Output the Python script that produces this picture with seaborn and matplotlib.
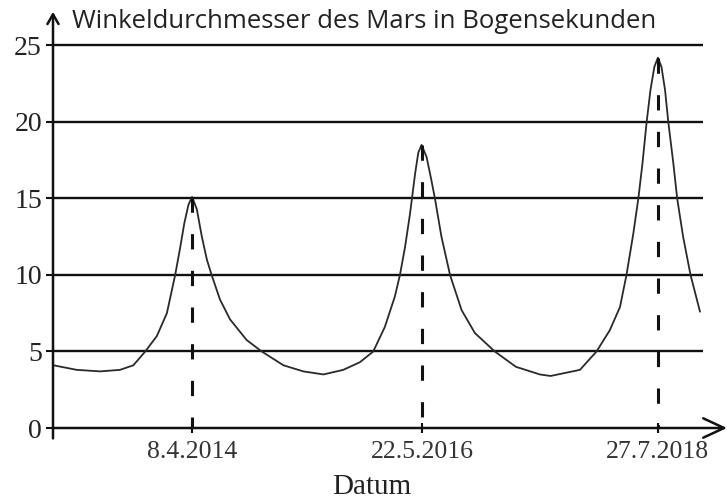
import pandas as pd
import matplotlib.pyplot as plt
import seaborn as sns

# Winkeldurchmesser des Mars (Bogensekunden), x = Tage relativ zum 8.4.2014
tage = [-468, -389, -310, -243, -198, -158, -119, -85, -57, -40,
        -26, -12, 0, 16, 33, 50, 66, 94, 128, 184,
        235, 308, 375, 443, 510, 566, 611, 650, 684,
        701, 718, 735, 752, 763, 774, 791, 807, 819, 841,
        870, 909, 954, 1021, 1092, 1173, 1209, 1308, 1364, 1409,
        1443, 1465, 1488, 1505, 1519, 1533, 1546, 1559, 1571, 1583,
        1595, 1606, 1623, 1636, 1656, 1681, 1713]
durchmesser = [4.1, 3.8, 3.7, 3.8, 4.1, 5.0, 6.0, 7.5, 10.0, 11.8,
               13.4, 14.6, 15.1, 14.3, 12.5, 11.0, 10.0, 8.4, 7.1, 5.75,
               5.0, 4.1, 3.7, 3.5, 3.8, 4.3, 5.0, 6.6, 8.6,
               10.0, 11.8, 14.0, 16.6, 18.0, 18.5, 17.7, 16.2, 15.0, 12.5,
               10.0, 7.7, 6.2, 5.0, 4.0, 3.5, 3.4, 3.8, 5.0, 6.4,
               7.9, 10.0, 12.7, 15.0, 17.3, 20.0, 22.1, 23.6, 24.2, 23.6,
               22.1, 20.0, 17.3, 15.0, 12.5, 10.0, 7.6]

# Oppositionen
opp_labels = ["8.4.2014", "22.5.2016", "27.7.2018"]
opp_werte = [15.1, 18.5, 24.2]

y_ticks = [0, 5, 10, 15, 20, 25]

start = pd.Timestamp("2014-04-08")
df = pd.DataFrame({
    "datum": start + pd.to_timedelta(tage, unit="D"),
    "wert": durchmesser,
})
opp_daten = pd.to_datetime(opp_labels, format="%d.%m.%Y")

sns.set_style("white")
plt.rcParams["font.family"] = ["Liberation Serif", "DejaVu Serif"]

fig = plt.figure(figsize=(7.28, 5.0), dpi=100)
ax = fig.add_axes([53 / 728, 0.144, 674 / 728, 0.8324])

x_min = start + pd.Timedelta(days=-469)
x_max = start + pd.Timedelta(days=1804)
grid_end = start + pd.Timedelta(days=1722)

# horizontale Linien
ax.hlines(y_ticks[1:], x_min, grid_end, color="#111111", lw=1.7)

sns.lineplot(data=df, x="datum", y="wert", ax=ax, color="#2a2a2a", lw=1.3)

# gestrichelte Linien bei den Oppositionen (von oben nach unten)
ax.vlines(opp_daten, opp_werte, 0, color="#111111", lw=2.2,
          linestyles=(0, (5, 7)))

ax.set_xlim(x_min, x_max)
ax.set_ylim(0, 27.2)
for s in ax.spines.values():
    s.set_visible(False)

# Achsenpfeile
ax.annotate("", xy=(1.0, 0), xytext=(0, 0), xycoords="axes fraction",
            arrowprops=dict(arrowstyle="->,head_length=1.5,head_width=0.7",
                            lw=1.8, color="#111111", shrinkA=0, shrinkB=0))
ax.annotate("", xy=(0, 1.0), xytext=(0, -0.025), xycoords="axes fraction",
            arrowprops=dict(arrowstyle="->,head_length=0.7,head_width=0.4",
                            lw=1.8, color="#111111", shrinkA=0, shrinkB=0))

ax.set_yticks(y_ticks)
ax.set_yticklabels([str(v) for v in y_ticks], fontsize=20, color="#222222")
ax.set_xticks(opp_daten)
ax.set_xticklabels(opp_labels, fontsize=18.5, color="#333333")
ax.tick_params(axis="y", direction="out", length=5, width=1.5, pad=3,
               left=True, color="#111111")
ax.tick_params(axis="x", direction="inout", length=7, width=1.5, pad=6,
               bottom=True, color="#111111")

ax.set_xlabel("")
ax.set_ylabel("")
fig.text(372 / 728, 1 - 487 / 500, "Datum", fontsize=21, color="#222222",
         ha="center", va="center")

fig.text(72 / 728, 0.956, "Winkeldurchmesser des Mars in Bogensekunden",
         fontsize=18.5, family=["Open Sans", "DejaVu Sans"], color="#222222",
         va="center", ha="left")

fig.savefig("out.png", dpi=100)
